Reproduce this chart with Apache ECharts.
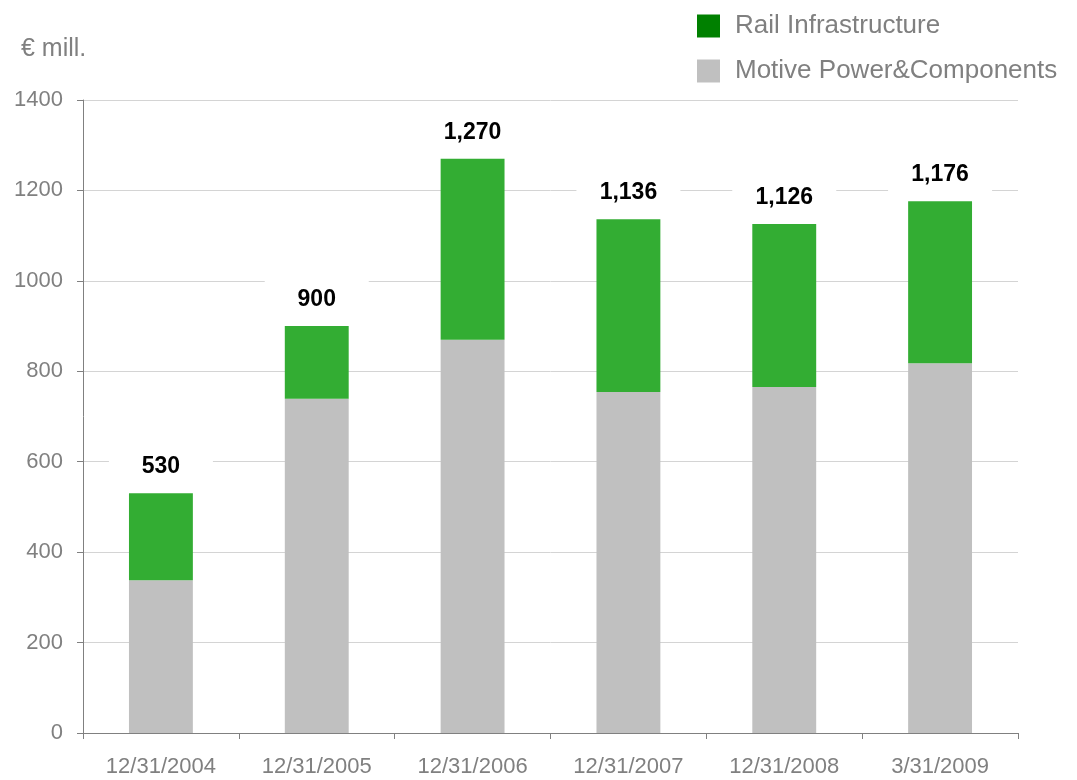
<!DOCTYPE html>
<html>
<head>
<meta charset="utf-8">
<script src="https://cdn.jsdelivr.net/npm/echarts@6/dist/echarts.min.js"></script>
<style>
  html, body { margin: 0; padding: 0; background: #fff; }
  #chart { width: 1077px; height: 780px; }
</style>
</head>
<body>
<div id="chart"></div>
<script>
// 数据
const categories = ["12/31/2004", "12/31/2005", "12/31/2006", "12/31/2007", "12/31/2008", "3/31/2009"];
const motivePower = [338, 739, 870, 754, 765, 818];
const railInfra = [192, 161, 400, 382, 361, 358];
const yTicks = [0, 200, 400, 600, 800, 1000, 1200, 1400];

const font = "'Liberation Sans', Arial, sans-serif";
const grey = "#808080";

let chart = echarts.init(document.getElementById("chart"));

let opts = {
  animation: false,
  title: {
    text: "€ mill.",
    left: 16,
    top: 32,
    textStyle: { color: grey, fontSize: 25, fontWeight: "normal", fontFamily: font }
  },
  legend: {
    orient: "vertical",
    left: 692,
    top: 8,
    itemWidth: 23,
    itemHeight: 23,
    itemGap: 19,
    icon: "rect",
    textStyle: { color: grey, fontSize: 26, fontFamily: font, padding: [0, 0, 0, 10] },
    data: [
      { name: "Rail Infrastructure", itemStyle: { color: "#008000" } },
      { name: "Motive Power&Components", itemStyle: { color: "#c0c0c0" } }
    ]
  },
  grid: {
    left: 83,
    right: 59,
    top: 100,
    bottom: 47
  },
  xAxis: {
    type: "category",
    data: categories,
    axisLine: { lineStyle: { color: grey, width: 1 } },
    axisTick: { show: true, length: 6, interval: 0, lineStyle: { color: grey } },
    axisLabel: { color: grey, fontSize: 22, fontFamily: font, margin: 23, interval: 0 }
  },
  yAxis: {
    type: "value",
    min: yTicks[0],
    max: yTicks[yTicks.length - 1],
    interval: 200,
    axisLine: { show: true, lineStyle: { color: grey, width: 1 } },
    axisTick: { show: true, length: 6, lineStyle: { color: grey } },
    axisLabel: {
      color: grey,
      fontSize: 22,
      fontFamily: font,
      margin: 20,
      formatter: function (v) { return String(v); }
    },
    splitLine: { lineStyle: { color: "#d4d4d4", width: 1 } }
  },
  series: [
    {
      name: "Motive Power&Components",
      type: "bar",
      stack: "total",
      barWidth: "41%",
      itemStyle: { color: "#c0c0c0" },
      data: motivePower
    },
    {
      name: "Rail Infrastructure",
      type: "bar",
      stack: "total",
      barWidth: "41%",
      itemStyle: { color: "#33ad33" },
      data: railInfra,
      label: {
        show: true,
        position: "top",
        distance: 5,
        color: "#000",
        fontSize: 23,
        fontWeight: "bold",
        fontFamily: font,
        backgroundColor: "#fff",
        width: 104,
        align: "center",
        lineHeight: 23,
        padding: [10, 0],
        formatter: function (p) {
          let total = motivePower[p.dataIndex] + railInfra[p.dataIndex];
          return total.toLocaleString("en-US");
        }
      }
    }
  ]
};

chart.setOption(opts);
</script>
</body>
</html>
